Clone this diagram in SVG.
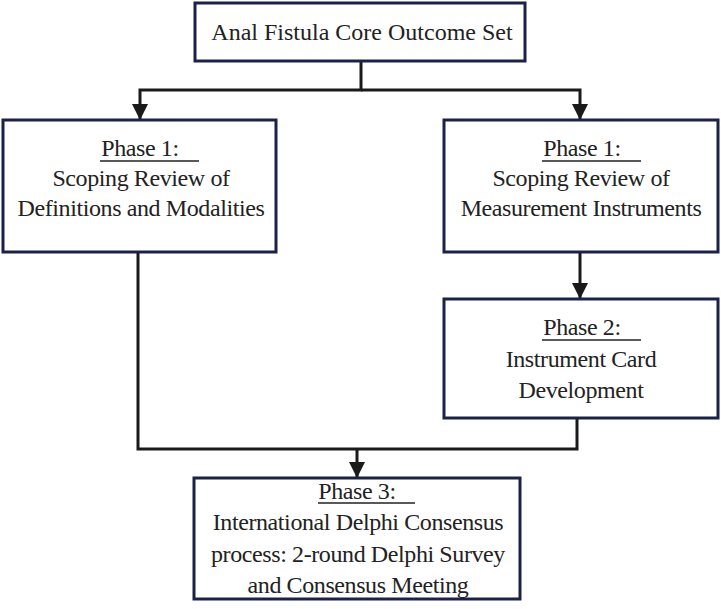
<svg xmlns="http://www.w3.org/2000/svg" width="721" height="609" viewBox="0 0 721 609">
<defs>
<style>
.box{fill:#fff;stroke:#1c2147;stroke-width:3}
.con{fill:none;stroke:#1a1a1a;stroke-width:3}
.ul{stroke:#222;stroke-width:1.3}
.t{font-family:'Liberation Serif','Times New Roman',serif;font-size:24px;fill:#222;text-anchor:middle;letter-spacing:-0.4px}
.t0{font-family:'Liberation Serif','Times New Roman',serif;font-size:24px;fill:#222;text-anchor:middle}
</style>
<marker id="arr" markerUnits="userSpaceOnUse" markerWidth="16" markerHeight="16" viewBox="0 0 16 16" refX="15" refY="8" orient="auto">
<path d="M0,0 L16,8 L0,16 Z" fill="#1a1a1a"/>
</marker>
</defs>
<rect width="721" height="609" fill="#fff"/>
<g id="connectors">
<path class="con" d="M361,61 V90 H140 V119" marker-end="url(#arr)"/>
<path class="con" d="M361,90 H580 V119" marker-end="url(#arr)"/>
<path class="con" d="M580,252 V298" marker-end="url(#arr)"/>
<path class="con" d="M138,252 V449 H577 V418"/>
<path class="con" d="M357,449 V477" marker-end="url(#arr)"/>
</g>
<g id="top">
<rect class="box" x="195" y="3" width="330" height="58"/>
<text class="t0" x="362" y="40">Anal Fistula Core Outcome Set</text>
</g>
<g id="phase1-left">
<rect class="box" x="3" y="120" width="273" height="132"/>
<text class="t" x="140" y="156">Phase 1:</text>
<line class="ul" x1="100" y1="161" x2="199" y2="161"/>
<text class="t" x="141" y="186">Scoping Review of</text>
<text class="t" x="141" y="216">Definitions and Modalities</text>
</g>
<g id="phase1-right">
<rect class="box" x="444" y="120" width="274" height="132"/>
<text class="t" x="582" y="156">Phase 1:</text>
<line class="ul" x1="542" y1="161" x2="641" y2="161"/>
<text class="t" x="581" y="186">Scoping Review of</text>
<text class="t" x="581" y="216">Measurement Instruments</text>
</g>
<g id="phase2">
<rect class="box" x="444" y="299" width="274" height="119"/>
<text class="t" x="582" y="335">Phase 2:</text>
<line class="ul" x1="542" y1="340" x2="641" y2="340"/>
<text class="t" x="581" y="367">Instrument Card</text>
<text class="t" x="581" y="398">Development</text>
</g>
<g id="phase3">
<rect class="box" x="194" y="478" width="326" height="121"/>
<text class="t" x="357" y="499">Phase 3:</text>
<line class="ul" x1="318" y1="503" x2="415" y2="503"/>
<text class="t" x="358" y="530">International Delphi Consensus</text>
<text class="t" x="358" y="562">process: 2-round Delphi Survey</text>
<text class="t" x="358" y="593">and Consensus Meeting</text>
</g>
</svg>
